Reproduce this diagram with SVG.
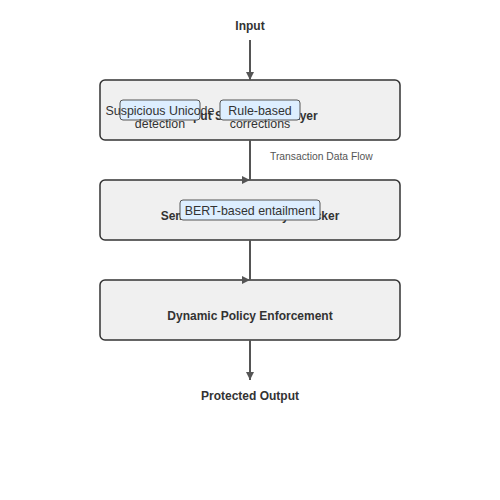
<svg xmlns="http://www.w3.org/2000/svg" width="500" height="500" viewBox="0 0 500 500">
<style>
.main{fill:#f0f0f0;stroke:#333;stroke-width:1.5}
.sub{fill:#ddeeff;stroke:#555;stroke-width:1}
.title{font-family:"Liberation Sans",Arial,sans-serif;font-size:12px;font-weight:bold;fill:#333;text-anchor:middle}
.st{font-family:"Liberation Sans",Arial,sans-serif;font-size:12.4px;fill:#333;text-anchor:middle}
.lbl{font-family:"Liberation Sans",Arial,sans-serif;font-size:10.3px;fill:#555}
.conn{stroke:#555;stroke-width:2;fill:none}
</style>
<defs>
<marker id="ad" markerWidth="8" markerHeight="8" refX="8" refY="4" orient="90" markerUnits="userSpaceOnUse"><path d="M0,0 L8,4 L0,8 z" fill="#555"/></marker>
<marker id="ar" markerWidth="8" markerHeight="8" refX="8" refY="4" orient="0" markerUnits="userSpaceOnUse"><path d="M0,0 L8,4 L0,8 z" fill="#555"/></marker>
</defs>
<rect width="500" height="500" fill="#fff"/>
<g id="input"><text class="title" x="250" y="30">Input</text></g>
<g id="sanitization">
<rect class="main" x="100" y="80" width="300" height="60" rx="5"/>
<text class="title" x="250" y="120">Input Sanitization Layer</text>
</g>
<g id="unicode">
<rect class="sub" x="120" y="100" width="80" height="20" rx="3"/>
<text class="st" x="160" y="115">Suspicious Unicode</text>
<text class="st" x="160" y="128">detection</text>
</g>
<g id="rules">
<rect class="sub" x="220" y="100" width="80" height="20" rx="3"/>
<text class="st" x="260" y="115">Rule-based</text>
<text class="st" x="260" y="128">corrections</text>
</g>
<g id="semantic">
<rect class="main" x="100" y="180" width="300" height="60" rx="5"/>
<text class="title" x="250" y="220">Semantic Consistency Checker</text>
</g>
<g id="bert">
<rect class="sub" x="180" y="200" width="140" height="20" rx="3"/>
<text class="st" x="250" y="215">BERT-based entailment</text>
</g>
<g id="policy">
<rect class="main" x="100" y="280" width="300" height="60" rx="5"/>
<text class="title" x="250" y="320">Dynamic Policy Enforcement</text>
</g>
<g id="output"><text class="title" x="250" y="400">Protected Output</text></g>
<g id="connectors">
<line class="conn" x1="250" y1="40" x2="250" y2="80" marker-end="url(#ad)"/>
<line class="conn" x1="250" y1="140" x2="250" y2="180" marker-end="url(#ar)"/>
<line class="conn" x1="250" y1="240" x2="250" y2="280" marker-end="url(#ar)"/>
<line class="conn" x1="250" y1="340" x2="250" y2="380" marker-end="url(#ad)"/>
<text class="lbl" x="270" y="160">Transaction Data Flow</text>
</g>
</svg>
